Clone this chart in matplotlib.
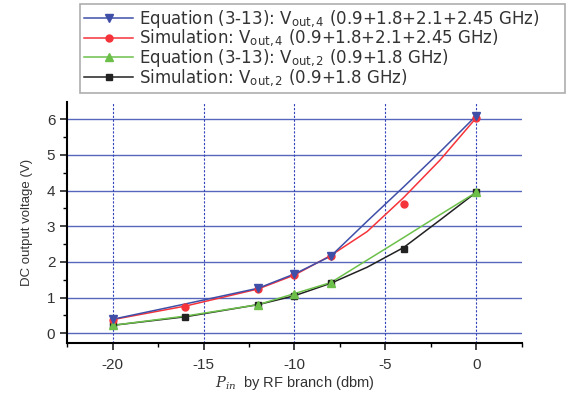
import numpy as np
import matplotlib
matplotlib.use("Agg")
from matplotlib import pyplot as plt
from matplotlib.lines import Line2D
from matplotlib.ticker import MultipleLocator

plt.rcParams['font.family'] = ['Liberation Sans', 'DejaVu Sans']
plt.rcParams['mathtext.fontset'] = 'dejavuserif'
plt.rcParams['axes.unicode_minus'] = False

# curvas (leitura do grafico)
curve_x = [-20, -16, -12, -10, -8, -6, -4, -2, 0]
eq4_curve = [0.39, 0.82, 1.26, 1.66, 2.16, 3.14, 4.10, 5.08, 6.10]
sim4_curve = [0.38, 0.76, 1.24, 1.63, 2.18, 2.85, 3.80, 4.85, 6.04]
eq2_curve = [0.22, 0.48, 0.80, 1.11, 1.42, 2.05, 2.68, 3.32, 3.95]
sim2_curve = [0.22, 0.46, 0.80, 1.05, 1.40, 1.85, 2.40, 3.17, 3.95]

# pontos (marcadores)
eq_x = [-20, -12, -10, -8, 0]
eq4_pts = [0.39, 1.26, 1.66, 2.17, 6.10]
eq2_pts = [0.22, 0.80, 1.11, 1.42, 3.95]
sim_x = [-20, -16, -12, -10, -8, -4, 0]
sim4_pts = [0.38, 0.74, 1.24, 1.63, 2.15, 3.61, 6.04]
sim2_pts = [0.22, 0.44, 0.80, 1.05, 1.40, 2.36, 3.95]

labels = [r"Equation (3-13): V$_{\mathregular{out,4}}$ (0.9+1.8+2.1+2.45 GHz)",
          r"Simulation: V$_{\mathregular{out,4}}$ (0.9+1.8+2.1+2.45 GHz)",
          r"Equation (3-13): V$_{\mathregular{out,2}}$ (0.9+1.8 GHz)",
          r"Simulation: V$_{\mathregular{out,2}}$ (0.9+1.8 GHz)"]

c_blue = '#3f4fa8'
c_red = '#f5333a'
c_green = '#6cc04a'
c_black = '#222222'

fig = plt.figure(figsize=(5.69, 3.94), dpi=100)
ax = fig.add_axes([0.118, 0.129, 0.799, 0.612])

# grade
for yv in range(0, 7):
    ax.axhline(yv, color='#5566bb', lw=1.0, zorder=1)
for xv in [-20, -15, -10, -5, 0]:
    ax.axvline(xv, color='#3344bb', lw=0.8, ls=(0, (2, 1.5)), zorder=1)

# linhas
ax.plot(curve_x, sim2_curve, color=c_black, lw=1.1, zorder=2)
ax.plot(curve_x, sim4_curve, color=c_red, lw=1.1, zorder=2)
ax.plot(curve_x, eq2_curve, color=c_green, lw=1.1, zorder=3)
ax.plot(curve_x, eq4_curve, color=c_blue, lw=1.1, zorder=3)

# marcadores
ax.plot(sim_x, sim2_pts, ls='none', marker='s', ms=5, color=c_black, zorder=4)
ax.plot(sim_x, sim4_pts, ls='none', marker='o', ms=5, color=c_red, zorder=4)
ax.plot(eq_x, eq2_pts, ls='none', marker='^', ms=6, color=c_green, zorder=5)
ax.plot(eq_x, eq4_pts, ls='none', marker='v', ms=6, color=c_blue, zorder=5)

ax.set_xlim(-22.5, 2.5)
ax.set_ylim(-0.28, 6.48)
ax.xaxis.set_major_locator(MultipleLocator(5))
ax.xaxis.set_minor_locator(MultipleLocator(2.5))
ax.yaxis.set_major_locator(MultipleLocator(1))
ax.yaxis.set_minor_locator(MultipleLocator(0.5))
ax.spines['top'].set_visible(False)
ax.spines['right'].set_visible(False)
ax.spines['left'].set_linewidth(1.5)
ax.spines['bottom'].set_linewidth(1.5)
ax.tick_params(which='major', direction='out', length=5, width=1.2, labelsize=11,
               colors='#222222', labelcolor='#333333')
ax.tick_params(axis='x', which='major', pad=6)
ax.tick_params(which='minor', direction='out', length=3, width=1.0)

ax.set_xlabel(r"$P_{in}$  by RF branch (dbm)", fontsize=10.5, color='#333333', labelpad=1)
ax.set_ylabel("DC output voltage (V)", fontsize=9.5, color='#333333', labelpad=10)

# legenda (caixa no topo)
handles = [Line2D([], [], color=c_blue, marker='v', ms=6, lw=1.1),
           Line2D([], [], color=c_red, marker='o', ms=5, lw=1.1),
           Line2D([], [], color=c_green, marker='^', ms=6, lw=1.1),
           Line2D([], [], color=c_black, marker='s', ms=5, lw=1.1)]
leg = fig.legend(handles, labels, loc='upper left', bbox_to_anchor=(0.141, 0.99, 0.852, 0.0),
                 mode='expand', frameon=True, fancybox=False,
                 prop={'family': 'DejaVu Sans', 'size': 12},
                 edgecolor='#999999', handlelength=2.9, handletextpad=0.4,
                 labelspacing=-0.12, borderpad=0.25, borderaxespad=0)
leg.get_frame().set_linewidth(1.2)
for t in leg.get_texts():
    t.set_color('#333333')

fig.savefig("out.png", dpi=100)
